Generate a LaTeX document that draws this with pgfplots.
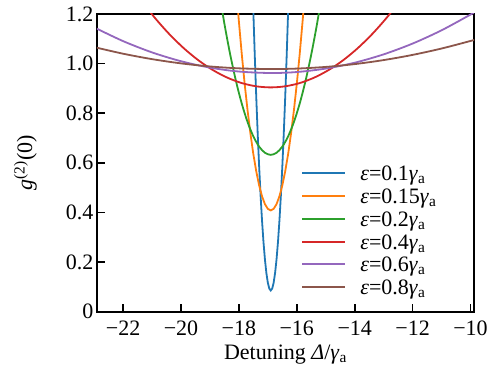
\documentclass[border=0pt]{standalone}
\usepackage{fontspec}
\setmainfont{Liberation Serif}
\usepackage{pgfplots}
\pgfplotsset{compat=1.18}
\definecolor{tabblue}{HTML}{1F77B4}
\definecolor{taborange}{HTML}{FF7F0E}
\definecolor{tabgreen}{HTML}{2CA02C}
\definecolor{tabred}{HTML}{D62728}
\definecolor{tabpurple}{HTML}{9467BD}
\definecolor{tabbrown}{HTML}{8C564B}
\tikzset{legtext/.style={anchor=base west, yshift=-7.3pt, inner sep=0pt, font=\fontsize{22}{22}\selectfont}}
\begin{document}
\begin{tikzpicture}
\useasboundingbox (-97pt,-60.4pt) rectangle (393pt,311.6pt);
\begin{axis}[
  at={(0pt,0pt)}, anchor=south west,
  scale only axis, width=377pt, height=297.6pt,
  xmin=-22.9, xmax=-9.88, ymin=0, ymax=1.2,
  xtick={-22,-20,-18,-16,-14,-12,-10},
  xticklabels={\mbox{−22},\mbox{−20},\mbox{−18},\mbox{−16},\mbox{−14},\mbox{−12},\mbox{−10}},
  ytick={0,0.2,0.4,0.6,0.8,1.0,1.2},
  yticklabels={\mbox{0},\mbox{0.2},\mbox{0.4},\mbox{0.6},\mbox{0.8},\mbox{1.0},\mbox{1.2}},
  tick pos=left, tick align=inside,
  major tick length=8pt,
  tick style={line width=1.6pt, black},
  axis line style={line width=1.8pt},
  tick label style={font=\fontsize{22}{26}\selectfont},
  xticklabel style={yshift=-6pt},
  xlabel={Detuning \textit{Δ}/\textit{γ}\textsubscript{a}},
  ylabel={\textit{g}\textsuperscript{(2)}(0)},
  every axis x label/.style={at={(axis description cs:0.5,-0.144)}, anchor=center, font=\fontsize{22}{26}\selectfont},
  every axis y label/.style={at={(axis description cs:-0.19,0.5)}, rotate=90, anchor=center, font=\fontsize{22}{26}\selectfont},
]
% curves
\addplot[tabblue, line width=1.8pt] coordinates {
(-17.55,1.3932) (-17.50,1.2082) (-17.45,1.0288) (-17.40,0.865) (-17.35,0.7168)
(-17.30,0.5842) (-17.25,0.4672) (-17.20,0.3658) (-17.15,0.280) (-17.10,0.2098)
(-17.05,0.1552) (-17.00,0.1162) (-16.95,0.0928) (-16.90,0.085) (-16.85,0.0928)
(-16.80,0.1162) (-16.75,0.1552) (-16.70,0.2098) (-16.65,0.280) (-16.60,0.3658)
(-16.55,0.4672) (-16.50,0.5842) (-16.45,0.7168) (-16.40,0.865) (-16.35,1.0288)
(-16.30,1.2082) (-16.25,1.3932)};
\addplot[taborange, line width=1.8pt] coordinates {
(-18.2,1.4727) (-18.1,1.3152) (-18.0,1.1703) (-17.9,1.038) (-17.8,0.9183)
(-17.7,0.8112) (-17.6,0.7167) (-17.5,0.6348) (-17.4,0.5655) (-17.3,0.5088)
(-17.2,0.4647) (-17.1,0.4332) (-17.0,0.4143) (-16.9,0.408) (-16.8,0.4143)
(-16.7,0.4332) (-16.6,0.4647) (-16.5,0.5088) (-16.4,0.5655) (-16.3,0.6348)
(-16.2,0.7167) (-16.1,0.8112) (-16.0,0.9183) (-15.9,1.038) (-15.8,1.1703)
(-15.7,1.3152) (-15.6,1.4727)};
\addplot[tabgreen, line width=1.8pt, smooth] coordinates {
(-18.7,1.3014) (-18.5,1.1609) (-18.3,1.0369) (-18.1,0.9295) (-17.9,0.8386)
(-17.7,0.7642) (-17.5,0.7064) (-17.3,0.6651) (-17.1,0.6403) (-16.9,0.632)
(-16.7,0.6403) (-16.5,0.6651) (-16.3,0.7064) (-16.1,0.7642) (-15.9,0.8386)
(-15.7,0.9295) (-15.5,1.0369) (-15.3,1.1609) (-15.1,1.3014)};
\addplot[tabred, line width=1.8pt, smooth] coordinates {
(-21.4,1.2588) (-20.9,1.1843) (-20.4,1.1186) (-19.9,1.0617) (-19.4,1.0135)
(-18.9,0.9741) (-18.4,0.9434) (-17.9,0.9215) (-17.4,0.9084) (-16.9,0.904)
(-16.4,0.9084) (-15.9,0.9215) (-15.4,0.9434) (-14.9,0.9741) (-14.4,1.0135)
(-13.9,1.0617) (-13.4,1.1186) (-12.9,1.1843) (-12.4,1.2588)};
\addplot[tabpurple, line width=1.8pt, smooth] coordinates {
(-23,1.1462) (-22,1.0907) (-21,1.0452) (-20,1.0096) (-19,0.9838) (-18,0.968)
(-16.9,0.962) (-16,0.966) (-15,0.9799) (-14,1.0036) (-13,1.0373) (-12,1.0808)
(-11,1.1343) (-10,1.1977) (-9.8,1.2115)};
\addplot[tabbrown, line width=1.8pt, smooth] coordinates {
(-23,1.0666) (-22,1.0399) (-21,1.018) (-20,1.0009) (-19,0.9885) (-18,0.9809)
(-16.9,0.978) (-16,0.9799) (-15,0.9866) (-14,0.998) (-13,1.0142) (-12,1.0351)
(-11,1.0608) (-10,1.0913) (-9.8,1.098)};
% legend keys
\addplot[tabblue, line width=1.8pt] coordinates {(-15.82,0.5596) (-14.33,0.5596)};
\addplot[taborange, line width=1.8pt] coordinates {(-15.82,0.4667) (-14.33,0.4667)};
\addplot[tabgreen, line width=1.8pt] coordinates {(-15.82,0.3739) (-14.33,0.3739)};
\addplot[tabred, line width=1.8pt] coordinates {(-15.82,0.2810) (-14.33,0.2810)};
\addplot[tabpurple, line width=1.8pt] coordinates {(-15.82,0.1922) (-14.33,0.1922)};
\addplot[tabbrown, line width=1.8pt] coordinates {(-15.82,0.0993) (-14.33,0.0993)};
\node[legtext] at (axis cs:-13.81,0.5596) {\textit{ε}=0.1\textit{γ}\textsubscript{a}};
\node[legtext] at (axis cs:-13.81,0.4667) {\textit{ε}=0.15\textit{γ}\textsubscript{a}};
\node[legtext] at (axis cs:-13.81,0.3739) {\textit{ε}=0.2\textit{γ}\textsubscript{a}};
\node[legtext] at (axis cs:-13.81,0.2810) {\textit{ε}=0.4\textit{γ}\textsubscript{a}};
\node[legtext] at (axis cs:-13.81,0.1922) {\textit{ε}=0.6\textit{γ}\textsubscript{a}};
\node[legtext] at (axis cs:-13.81,0.0993) {\textit{ε}=0.8\textit{γ}\textsubscript{a}};
\end{axis}
\end{tikzpicture}
\end{document}
